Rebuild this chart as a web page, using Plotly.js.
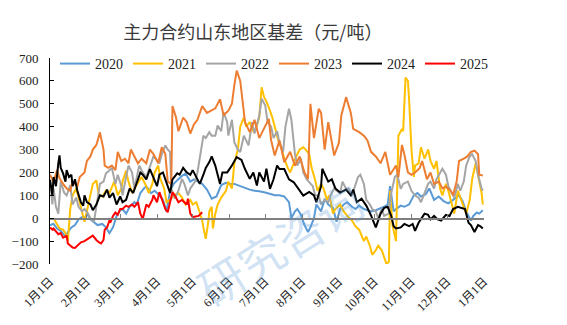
<!DOCTYPE html>
<html>
<head>
<meta charset="utf-8">
<script src="https://cdn.plot.ly/plotly-3.0.1.min.js"></script>
<style>html,body{margin:0;padding:0;background:#fff;}#chart{width:567px;height:325px;}</style>
</head>
<body>
<div id="chart"></div>
<script>
const monthStarts = [0,31,59,90,120,151,181,212,243,273,304,334,365];
const monthLabels = ['1月1日','2月1日','3月1日','4月1日','5月1日','6月1日','7月1日','8月1日','9月1日','10月1日','11月1日','12月1日','1月1日'];
const seriesNames = ['2020','2021','2022','2023','2024','2025'];
const seriesColors = ['#5B9BD5','#FFC000','#A5A5A5','#ED7D31','#000000','#FF0000'];

const days2020 = [0,3,6,9,13,15,18,21,24,27,29,32,34,38,40,44,47,50,53,56,59,61,64,67,71,73,76,79,81,85,88,92,95,98,101,104,108,111,114,118,121,124,128,132,136,140,144,148,151,155,160,164,168,172,176,181,185,189,193,197,201,203,206,208,211,214,217,219,222,224,228,231,234,238,241,244,247,250,254,257,260,264,267,270,274,277,281,284,286,289,291,295,298,302,306,309,312,316,319,323,327,331,335,339,344,347,350,354,356,359,361,364];
const val2020 = [-30,-25,-45,-55,-80,-60,-40,-30,-5,5,5,15,-5,-20,-30,-25,-40,-65,-40,10,35,40,20,50,70,60,110,130,140,110,120,100,80,30,120,150,170,185,195,160,170,160,150,125,85,95,145,155,150,150,140,135,125,120,118,112,105,100,100,95,70,0,30,40,15,-30,-60,-40,0,60,30,85,60,45,-15,40,60,70,50,40,55,40,35,30,35,40,50,60,140,30,40,55,50,60,100,110,95,105,130,80,95,75,65,80,100,75,30,-10,10,25,20,35];

const days2021 = [3,6,8,11,13,15,17,19,22,24,26,29,31,34,36,39,41,44,47,50,54,57,60,61,64,66,69,71,75,77,81,83,86,88,91,93,96,98,101,104,108,111,114,118,120,123,125,128,129,131,133,134,136,137,139,141,144,148,150,153,155,158,160,163,165,168,171,173,176,178,180,182,185,187,190,192,195,197,200,202,205,207,210,213,215,218,220,223,225,228,230,233,235,238,240,244,247,250,254,257,260,264,266,269,271,274,276,279,281,283,285,286,288,291,293,296,297,299,301,302,304,306,307,310,312,315,318,320,323,325,328,330,333,335,338,340,343,345,348,350,353,355,358,360,363,364];
const val2021 = [0,-30,-45,-50,-65,-100,40,100,130,90,50,-15,30,100,150,165,100,95,120,110,160,100,130,160,208,160,110,130,160,180,140,110,150,200,230,170,130,70,80,100,110,90,60,80,60,70,40,-10,-40,-90,-20,30,50,-45,20,60,90,120,160,130,239,300,400,440,400,420,380,390,440,572,530,510,470,440,380,340,300,260,220,200,240,270,300,310,300,280,220,167,120,150,130,80,100,20,40,60,30,10,-10,-36,-50,-100,-80,-120,-160,-140,-120,-140,-170,-200,-190,120,-30,-100,360,390,380,615,600,520,300,180,230,240,310,260,300,250,216,250,130,100,150,120,60,20,120,90,40,20,80,170,240,190,110,60];

const days2022 = [0,2,3,5,7,9,12,14,17,19,22,24,27,29,32,34,37,39,42,45,47,50,52,55,57,60,61,64,66,69,71,75,78,81,84,87,89,92,94,97,99,101,102,105,108,111,113,116,118,122,124,127,129,131,134,136,139,141,144,146,149,150,153,155,158,160,163,165,167,170,172,176,178,181,183,186,188,191,193,196,198,201,203,206,208,211,213,216,218,221,223,226,228,231,234,236,239,241,244,246,249,251,254,256,259,261,264,266,269,271,274,276,279,281,285,287,290,292,295,297,301,304,307,310,312,315,318,320,323,325,328,330,333,335,338,340,343,345,348,350,353,355,358,360,363,364];
const val2022 = [170,60,130,50,20,160,110,100,145,60,90,50,30,40,20,0,-15,60,150,160,195,210,220,150,190,140,100,180,230,200,130,230,200,180,230,270,260,240,280,318,300,290,128,85,120,172,150,100,130,160,200,289,361,350,376,360,360,405,380,463,420,361,430,332,300,289,360,340,318,420,370,449,522,493,420,400,350,380,330,289,400,478,430,280,230,260,200,170,157,140,100,99,60,80,70,100,130,120,110,160,128,130,100,130,180,190,150,80,60,40,30,0,40,10,20,110,180,190,128,150,160,120,99,90,70,110,150,160,130,170,200,216,190,140,110,90,150,120,160,230,270,280,250,190,130,120];

const days2023 = [0,3,6,8,11,14,17,19,23,25,29,31,34,36,39,42,45,46,49,52,55,57,60,63,66,68,71,74,77,81,84,87,91,94,97,99,102,103,106,108,112,115,118,121,124,128,132,135,139,143,146,150,153,155,157,160,162,164,168,172,176,181,184,186,189,193,197,202,206,210,214,217,219,222,226,228,231,234,239,243,245,249,253,255,260,264,267,270,274,278,282,286,291,293,296,298,301,304,307,311,313,317,320,323,327,330,333,337,339,342,344,348,351,354,357,360,361,364];
const val2023 = [190,160,210,175,150,130,120,160,140,180,200,250,270,300,320,375,300,230,220,230,210,290,250,260,240,300,270,240,260,240,300,280,240,310,280,160,150,490,440,380,440,420,370,410,430,490,460,470,480,520,450,470,500,580,645,600,520,420,376,430,350,400,434,340,274,340,245,290,230,270,200,172,500,350,478,460,300,420,274,330,449,529,460,390,376,360,340,290,270,240,290,190,230,180,320,280,200,190,200,220,250,170,200,150,160,130,138,120,100,160,250,260,270,290,295,280,190,187];

const days2024 = [0,2,3,5,7,8,9,11,13,14,16,18,19,21,23,24,26,28,29,31,34,36,39,42,45,48,50,53,56,59,61,64,67,70,73,76,78,81,84,87,90,92,95,97,101,103,107,109,112,115,118,120,123,126,129,131,134,136,139,141,143,145,149,153,157,161,164,168,171,174,176,180,182,185,188,191,193,197,201,205,209,213,218,222,224,228,229,232,234,237,240,244,249,253,255,258,262,266,270,274,278,281,284,287,289,291,295,298,302,305,307,310,312,315,318,320,323,326,329,333,336,339,343,346,349,352,354,357,360,362,364];
const val2024 = [167,100,180,140,240,275,220,196,160,210,180,190,140,170,120,100,70,55,100,70,60,35,60,100,95,125,90,110,60,95,70,80,130,110,160,200,190,170,215,180,140,190,200,170,110,170,196,190,220,200,190,210,180,150,190,220,245,270,230,187,150,200,200,230,267,255,215,172,200,143,200,160,216,128,170,230,215,215,170,157,128,99,115,100,70,140,216,185,160,170,130,112,125,100,125,70,85,55,12,-40,20,45,50,10,-35,-45,-40,-25,-35,-25,-55,-20,-5,20,15,-5,10,-5,-10,15,10,40,50,45,40,-20,-30,-60,-30,-35,-45];

const days2025 = [0,2,3,5,7,9,11,13,14,15,18,19,21,24,26,29,32,34,36,39,41,43,45,46,48,50,51,53,55,57,59,61,64,66,69,71,74,76,78,81,83,86,87,90,92,95,97,99,101,103,106,108,111,113,115,116,118,120,123,125,128];
const val2025 = [-40,-50,-45,-60,-70,-65,-85,-80,-75,-110,-125,-128,-130,-115,-105,-100,-90,-80,-76,-95,-105,-110,-95,-50,-40,-10,-15,10,25,15,40,40,55,50,60,50,70,20,-3,60,50,80,100,70,114,70,40,26,70,114,90,70,80,70,60,85,20,5,10,10,26];

const allDays = [days2020, days2021, days2022, days2023, days2024, days2025];
const allVals = [val2020, val2021, val2022, val2023, val2024, val2025];

const traces = seriesNames.map((n, i) => ({
  type: 'scatter', mode: 'lines', name: n,
  x: allDays[i], y: allVals[i],
  line: {color: seriesColors[i], width: 2},
  hoverinfo: 'skip'
}));
// empty helper trace so the zero-line axis (x2) is drawn
traces.push({type:'scatter', mode:'lines', x: [], y: [], xaxis: 'x2', showlegend: false, hoverinfo:'skip'});

const serif = '"Liberation Serif", "Noto Sans CJK SC", serif';
const layout = {
  width: 567, height: 325,
  margin: {l: 50, r: 83, t: 58, b: 61, pad: 0},
  paper_bgcolor: '#ffffff', plot_bgcolor: '#ffffff',
  showlegend: true,
  title: {
    text: '主力合约山东地区基差（元/吨）',
    font: {family: '"Noto Sans CJK SC", sans-serif', size: 18, color: '#3a3a3a'},
    x: 0.446, xref: 'container', xanchor: 'center',
    y: 0.9, yref: 'container', yanchor: 'middle'
  },
  legend: {
    orientation: 'h', x: 0.0115, xanchor: 'left', y: 0.971, yanchor: 'middle',
    font: {family: serif, size: 14, color: '#222222'},
    bgcolor: 'rgba(0,0,0,0)', itemwidth: 30, traceorder: 'normal'
  },
  xaxis: {
    range: [0, 365], showgrid: false, zeroline: false, showline: false,
    tickmode: 'array', tickvals: monthStarts, ticktext: monthLabels,
    tickangle: -45, ticks: '', ticklabelstandoff: 7,
    tickfont: {family: serif, size: 12, color: '#222222'}
  },
  xaxis2: {
    overlaying: 'x', matches: 'x', anchor: 'free', position: 200/900, side: 'bottom',
    range: [0, 365], showgrid: false, zeroline: false, showline: true,
    linecolor: '#7f7f7f', linewidth: 1.5,
    tickmode: 'array', tickvals: monthStarts, ticks: 'inside', ticklen: 4,
    tickcolor: '#7f7f7f', tickwidth: 1, showticklabels: false
  },
  yaxis: {
    range: [-200, 700], dtick: 100, tick0: 0, showgrid: false, zeroline: false,
    showline: true, linecolor: '#000000', linewidth: 1,
    ticks: 'inside', ticklen: 4, tickcolor: '#000000',
    ticklabelstandoff: 8,
    tickfont: {family: serif, size: 13, color: '#222222'}
  },
  annotations: [{
    text: '研究咨询', xref: 'paper', yref: 'paper', x: 0.53, y: 0.1,
    xanchor: 'center', yanchor: 'middle',
    showarrow: false, textangle: -32,
    font: {family: '"Noto Sans CJK SC", sans-serif', size: 46, color: 'rgba(91,155,213,0.28)'}
  }]
};

Plotly.newPlot('chart', traces, layout, {staticPlot: true, displayModeBar: false});
</script>
</body>
</html>
